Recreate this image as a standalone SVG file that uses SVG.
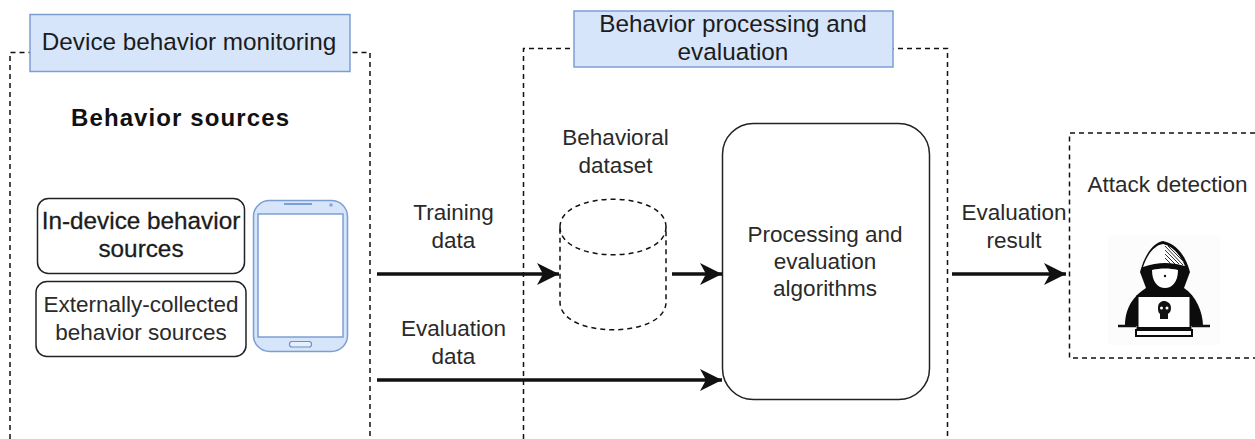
<svg xmlns="http://www.w3.org/2000/svg" width="1255" height="439" viewBox="0 0 1255 439">
<style>
text{font-family:"Liberation Sans",Arial,sans-serif;font-size:22.500px;fill:#2a2a2a;text-anchor:middle}
.big{font-size:24.300px;fill:#1c1c1c}
.t{font-weight:bold;font-size:24px;fill:#111}
.dash{fill:none;stroke:#111;stroke-width:1.500;stroke-dasharray:5 4}
.lab{fill:#d6e5f9;stroke:#7c9fd2;stroke-width:1.500}
.rr{fill:#fff;stroke:#222;stroke-width:1.500}
.arr{fill:none;stroke:#111;stroke-width:3.500;marker-end:url(#ah)}
.ph{fill:#d6e5f9;stroke:#7c9fd2;stroke-width:1.500}
.hatch{stroke:#333;stroke-width:1;fill:none}
</style>
<defs>
<marker id="ah" markerUnits="userSpaceOnUse" markerWidth="24" markerHeight="24" refX="22" refY="12" orient="auto">
<path d="M0 1L22 12L0 23L6 12Z" fill="#111"/>
</marker>
</defs>
<rect width="1255" height="439" fill="#fff"/>
<g id="monitoring">
<path class="dash" d="M10 439V52.500H370V439"/>
<rect class="lab" x="30" y="14.500" width="320" height="57"/>
<text class="big" x="189" y="50">Device behavior monitoring</text>
</g>
<g id="processing">
<path class="dash" d="M523.500 439V48.500H947.500V439"/>
<rect class="lab" x="574" y="11" width="319" height="56"/>
<text class="big" x="733" y="32">Behavior processing and</text>
<text class="big" x="733" y="60">evaluation</text>
</g>
<g id="attack">
<path class="dash" d="M1255 133H1069.500V358H1255"/>
<text x="1167.500" y="192">Attack detection</text>
<rect x="1108" y="235" width="112" height="110" fill="#fcfcfc"/>
<path d="M1125 326C1125 312 1130 298 1146 288L1140 272C1146 250 1156 242 1163 241C1172 243 1184 250 1190 272L1184 288C1196 296 1203 312 1203 326Z" fill="#0c0c0c"/>
<path d="M1143 267C1148 252 1156 245 1163 244C1172 246 1180 254 1185 266C1170 262 1158 262 1143 267Z" fill="#fff"/>
<path class="hatch" d="M1165 246L1183 265M1165 250L1179 264M1165 254L1175 264M1165 258L1171 264M1168 246L1184 262"/>
<path d="M1152 270C1160 268 1170 268 1178 270C1178 282 1172 288 1165 288C1158 288 1152 282 1152 270Z" fill="#fff"/>
<circle cx="1165" cy="276" r="1.200" fill="#111"/>
<rect x="1137.500" y="296" width="53" height="32" fill="#fff" stroke="#0c0c0c" stroke-width="2"/>
<path d="M1118 326H1136M1192 326H1210" stroke="#111" stroke-width="2.500" fill="none"/>
<rect x="1136" y="330" width="56" height="6" fill="#fff" stroke="#0c0c0c" stroke-width="2"/>
<path d="M1158 308C1158 303 1161 301 1164 301C1167 301 1171 303 1171 308C1171 312 1169 313 1168 314V319H1160V314C1159 313 1158 312 1158 308Z" fill="#111"/>
<circle cx="1161.500" cy="308" r="1.500" fill="#fff"/><circle cx="1167" cy="308" r="1.500" fill="#fff"/>
</g>
<g id="behavior-sources-title"><text class="t" x="180" y="126" textLength="218">Behavior sources</text></g>
<g id="in-device">
<rect class="rr" x="37.500" y="198.500" width="207" height="75" rx="11"/>
<text class="big" style="stroke:#1c1c1c;stroke-width:.3" x="141" y="229">In-device behavior</text>
<text class="big" style="stroke:#1c1c1c;stroke-width:.3" x="141" y="257">sources</text>
</g>
<g id="external">
<rect class="rr" x="36" y="281.500" width="210" height="75" rx="11"/>
<text x="141" y="312">Externally-collected</text>
<text x="141" y="340">behavior sources</text>
</g>
<g id="phone">
<rect class="ph" x="253.500" y="200.500" width="94" height="151" rx="16"/>
<rect x="258" y="214" width="85" height="123" fill="#fff" stroke="#7c9fd2" stroke-width="1.500"/>
<rect x="289.500" y="341.500" width="22" height="5.500" rx="2.500" fill="#e6effb" stroke="#6f90c4" stroke-width="1.200"/>
<path d="M284 204H312" stroke="#7c9fd2" stroke-width="2"/>
<circle cx="331" cy="205" r="1.800" fill="#8aa8d6"/>
</g>
<g id="dataset">
<text x="615.500" y="145">Behavioral</text>
<text x="615.500" y="173">dataset</text>
<path class="dash" d="M560 227C560 190 666 190 666 227V302C666 339 560 339 560 302Z" fill="#fff"/>
<path class="dash" d="M560 227C560 264 666 264 666 227"/>
</g>
<g id="algorithms">
<rect class="rr" x="722.500" y="123.500" width="207" height="276" rx="31"/>
<text x="825" y="242">Processing and</text>
<text x="825" y="269">evaluation</text>
<text x="825" y="296">algorithms</text>
</g>
<g id="connectors">
<path class="arr" d="M377 274H559"/>
<path class="arr" d="M672 274H722"/>
<path class="arr" d="M377 380H722"/>
<path class="arr" d="M952 274H1066"/>
<text x="453.500" y="220">Training</text>
<text x="453.500" y="248">data</text>
<text x="453.500" y="336">Evaluation</text>
<text x="453.500" y="364">data</text>
<text x="1014" y="220">Evaluation</text>
<text x="1014" y="248">result</text>
</g>
</svg>
